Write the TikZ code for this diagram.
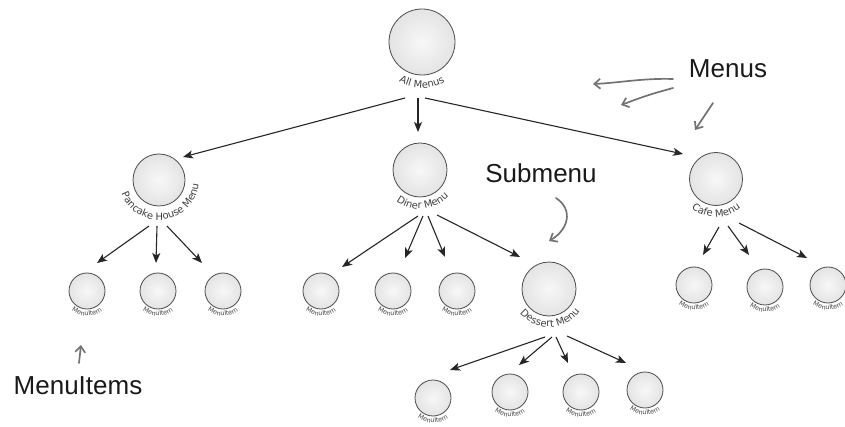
\documentclass[tikz,border=0pt]{standalone}
\usepackage{fontspec}
\usetikzlibrary{arrows.meta,calc,decorations.text}
\newfontfamily\lblfont{DejaVu Sans}
\newfontfamily\handfont{Liberation Sans}
\colorlet{ballA}{black!3}
\colorlet{ballB}{black!11}
\colorlet{ballC}{black!30}
\colorlet{ballD}{black!55}
\pgfdeclareradialshading{ball}{\pgfpoint{0bp}{0bp}}{color(0bp)=(ballA); color(26bp)=(ballB); color(43bp)=(ballC); color(50bp)=(ballD)}
\newcommand\menulabel[5]{% node, baseline radius, start angle, end angle, text
  \path[decorate, decoration={text along path, text align=center, text color=black!75,
    text={|\lblfont\fontsize{10}{10}\selectfont|#5}}]
    ($(#1)+(#3:#2)$) arc[start angle=#3, end angle=#4, radius=#2];}
\newcommand\itemlabel[1]{%
  \path[decorate, decoration={text along path, text align=center, text color=black!72,
    text={|\lblfont\fontsize{6.5}{6.5}\selectfont|MenuItem}}]
    ($(#1)+(170:25)$) arc[start angle=170, end angle=370, radius=25];}
\begin{document}
\begin{tikzpicture}[x=1pt,y=1pt,
  menu/.style={circle, draw=black!70, line width=0.8pt, shading=ball, inner sep=0pt, minimum size=#1},
  arr/.style={-{Stealth[length=10pt,width=8pt,inset=2.5pt]}, line width=1.1pt, draw=black!85},
  note/.style={font=\handfont\fontsize{26}{26}\selectfont, text=black!90, inner sep=0pt},
  hand/.style={-{Straight Barb[length=6pt,width=10pt]}, line width=1.7pt, draw=black!55, line cap=round}]
\useasboundingbox (0,0) rectangle (845,-427);
% menus
\node[menu=66] (all) at (422,-42) {};
\node[menu=52] (pancake) at (159,-180) {};
\node[menu=54] (diner) at (420,-170) {};
\node[menu=53] (cafe) at (716,-179) {};
\node[menu=54] (dessert) at (549,-289) {};
% items
\foreach \n/\x/\y in {p1/87/291, p2/158/291, p3/223/291,
                      d1/321/291, d2/393/291, d3/457/291,
                      c1/694/285, c2/765/287, c3/828/285,
                      s1/433/398, s2/510/392, s3/581/392, s4/645/390}{
  \node[menu=36] (\n) at (\x,-\y) {};
  \itemlabel{\n}
}
% labels
\menulabel{all}{46}{150}{390}{All Menus}
\menulabel{pancake}{40}{157}{397}{Pancake House Menu}
\menulabel{diner}{39}{155}{395}{Diner Menu}
\menulabel{cafe}{38}{150}{390}{Cafe Menu}
\menulabel{dessert}{38}{152}{392}{Dessert Menu}
% connectors
\draw[arr] ($(all)+(-17,-56)$) -- ($(pancake)+(24,23)$);
\draw[arr] ($(all)+(-4,-56)$) -- ($(diner)+(-2,38)$);
\draw[arr] ($(all)+(3,-56)$) -- ($(cafe)+(-33,25)$);
\draw[arr] ($(pancake)+(-10,-46)$) -- ($(p1)+(10,28)$);
\draw[arr] ($(pancake)+(-2,-46)$) -- ($(p2)+(-2,28)$);
\draw[arr] ($(pancake)+(8,-46)$) -- ($(p3)+(-21,28)$);
\draw[arr] ($(diner)+(-2,-46)$) -- ($(d1)+(21,24)$);
\draw[arr] ($(diner)+(3,-46)$) -- ($(d2)+(12,33)$);
\draw[arr] ($(diner)+(8,-46)$) -- ($(d3)+(-12,34)$);
\draw[arr] ($(diner)+(17,-45)$) -- ($(dessert)+(-29,32)$);
\draw[arr] ($(cafe)+(3,-48)$) -- ($(c1)+(9,30)$);
\draw[arr] ($(cafe)+(12,-47)$) -- ($(c2)+(-16,32)$);
\draw[arr] ($(cafe)+(23,-44)$) -- ($(c3)+(-21,27)$);
\draw[arr] ($(dessert)+(-4,-48)$) -- ($(s1)+(17,28)$);
\draw[arr] ($(dessert)+(3,-48)$) -- ($(s2)+(9,27)$);
\draw[arr] ($(dessert)+(7,-48)$) -- ($(s3)+(-13,29)$);
\draw[arr] ($(dessert)+(18,-47)$) -- ($(s4)+(-19,27)$);
% annotations
\node[note] (menus) at (728,-69) {Menus};
\node[note] (submenu) at (541,-173) {Submenu};
\node[note] (items) at (78,-386) {MenuItems};
\coordinate (m1) at (593,-84);
\coordinate (m2) at (621,-105);
\coordinate (m3) at (695,-130);
\coordinate (sm) at (549,-241);
\coordinate (mi) at (81,-345);
\draw[hand] ($(menus)+(-55,-10)$) .. controls ($(menus)+(-85,-9)$) and ($(menus)+(-110,-14)$) .. (m1);
\draw[hand] ($(menus)+(-55,-19)$) .. controls ($(menus)+(-80,-26)$) .. (m2);
\draw[hand] ($(menus)+(-15,-34)$) -- (m3);
\draw[hand] ($(submenu)+(15,-25)$) .. controls ($(submenu)+(33,-37)$) and ($(submenu)+(27,-57)$) .. (sm);
\draw[hand] ($(items)+(1,23)$) -- (mi);
\end{tikzpicture}
\end{document}
